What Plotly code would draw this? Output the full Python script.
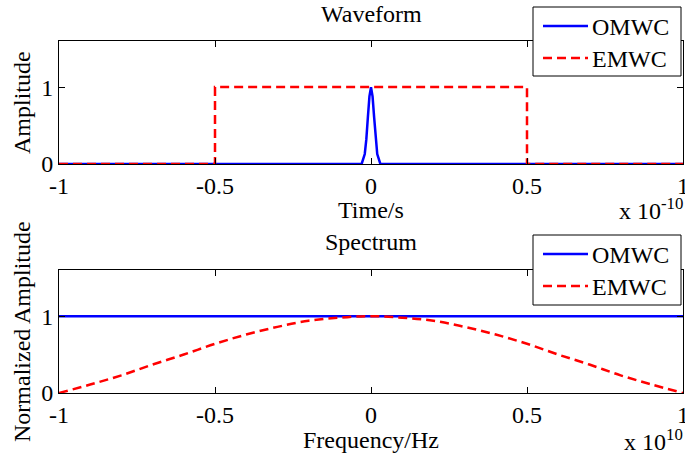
import plotly.graph_objects as go
from plotly.subplots import make_subplots

# Waveform (time axis in units of 1e-10 s)
wave_t_omwc = [-1.0, -0.03, -0.02, -0.015, -0.01, -0.005, 0.0, 0.005, 0.01, 0.015, 0.02, 0.03, 1.0]
wave_a_omwc = [0.0, 0.0, 0.13, 0.32, 0.61, 0.88, 1.0, 0.88, 0.61, 0.32, 0.13, 0.0, 0.0]
wave_t_emwc = [-1.0, -0.5, -0.5, 0.5, 0.5, 1.0]
wave_a_emwc = [0.0, 0.0, 1.0, 1.0, 0.0, 0.0]

# Spectrum (frequency axis in units of 1e10 Hz)
spec_f_omwc = [-1.0, 1.0]
spec_a_omwc = [1.0, 1.0]
spec_f_emwc = [-1.0, -0.9, -0.8, -0.7, -0.6, -0.5, -0.4, -0.3, -0.2, -0.1, 0.0,
               0.1, 0.2, 0.3, 0.4, 0.5, 0.6, 0.7, 0.8, 0.9, 1.0]
spec_a_emwc = [0.0, 0.11, 0.23, 0.37, 0.50, 0.64, 0.76, 0.86, 0.94, 0.98, 1.0,
               0.98, 0.94, 0.86, 0.76, 0.64, 0.50, 0.37, 0.23, 0.11, 0.0]

series_names = ["OMWC", "EMWC"]
x_ticks = [-1, -0.5, 0, 0.5, 1]
x_tick_text = ["-1", "-0.5", "0", "0.5", "1"]
y_ticks = [0, 1]

FONT = "Liberation Serif"
FS = 24
BLUE = "#0000FF"
RED = "#FF0000"
DASH = "9px,5px"

fig = make_subplots(rows=2, cols=1, vertical_spacing=0.0)

fig.add_trace(go.Scatter(x=wave_t_omwc, y=wave_a_omwc, mode="lines", name=series_names[0],
                         line=dict(color=BLUE, width=2.5)), row=1, col=1)
fig.add_trace(go.Scatter(x=wave_t_emwc, y=wave_a_emwc, mode="lines", name=series_names[1],
                         line=dict(color=RED, width=2.5, dash=DASH)), row=1, col=1)
fig.add_trace(go.Scatter(x=spec_f_omwc, y=spec_a_omwc, mode="lines", name=series_names[0],
                         line=dict(color=BLUE, width=2.5)), row=2, col=1)
fig.add_trace(go.Scatter(x=spec_f_emwc, y=spec_a_emwc, mode="lines", name=series_names[1],
                         line=dict(color=RED, width=2.5, dash=DASH, shape="spline")), row=2, col=1)

axis_common = dict(showline=True, linecolor="black", linewidth=1, mirror="ticks",
                   ticks="inside", ticklen=6, tickcolor="black", showgrid=False,
                   zeroline=False, automargin=False,
                   tickfont=dict(family=FONT, size=FS, color="black"))

fig.update_xaxes(range=[-1, 1.00001], tickvals=x_ticks, ticktext=x_tick_text,
                 ticklabeloverflow="allow", domain=[0, 1], **axis_common)
fig.update_yaxes(range=[0, 1.6], tickvals=y_ticks, **axis_common)
fig.layout.yaxis.domain = [0.6506, 1.0]
fig.layout.yaxis2.domain = [0.0, 0.3494]

fig.update_layout(
    width=685, height=459,
    margin=dict(l=59, r=2, t=41, b=66, autoexpand=False),
    paper_bgcolor="white", plot_bgcolor="white",
    font=dict(family=FONT, size=FS, color="black"),
    showlegend=False,
)


def py(px):
    # pixel row -> paper y
    return (393 - px) / 352.0


def pxx(px):
    # pixel column -> paper x
    return (px - 59) / 624.0


def label(text, x, y, **kw):
    d = dict(text=text, xref="paper", yref="paper", x=x, y=y,
             xanchor="center", yanchor="middle", showarrow=False,
             font=dict(family=FONT, size=FS, color="black"))
    d.update(kw)
    return d


ann_list = [
    label("Waveform", 0.5, py(14)),
    label("Spectrum", 0.5, py(242)),
    label("Time/s", 0.5, py(210)),
    label("Frequency/Hz", 0.5, py(440)),
    label("Amplitude", pxx(22), py(103), textangle=-90),
    label("Normalized Amplitude", pxx(22), py(332), textangle=-90),
    label("x 10<sup>-10</sup>", pxx(685), py(209), xanchor="right"),
    label("x 10<sup>10</sup>", pxx(685), py(440), xanchor="right"),
]

shapes = []

# Boxed legends, one per panel: (box top, box bottom, row centres)
legend_boxes = [(7, 76, 26, 58), (235, 305, 254, 286)]
styles = [dict(color=BLUE, width=2.5), dict(color=RED, width=2.5, dash=DASH)]
for top, bottom, r1, r2 in legend_boxes:
    shapes.append(dict(type="rect", xref="paper", yref="paper",
                       x0=pxx(533), x1=pxx(681), y0=py(bottom), y1=py(top),
                       line=dict(color="black", width=1), fillcolor="white", layer="above"))
    for name, style, row_y in zip(series_names, styles, (r1, r2)):
        shapes.append(dict(type="line", xref="paper", yref="paper",
                           x0=pxx(543), x1=pxx(588), y0=py(row_y), y1=py(row_y),
                           line=style, layer="above"))
        ann_list.append(label(name, pxx(590), py(row_y + 1), xanchor="left"))

fig.update_layout(annotations=ann_list, shapes=shapes)

fig.write_html("out.html")
